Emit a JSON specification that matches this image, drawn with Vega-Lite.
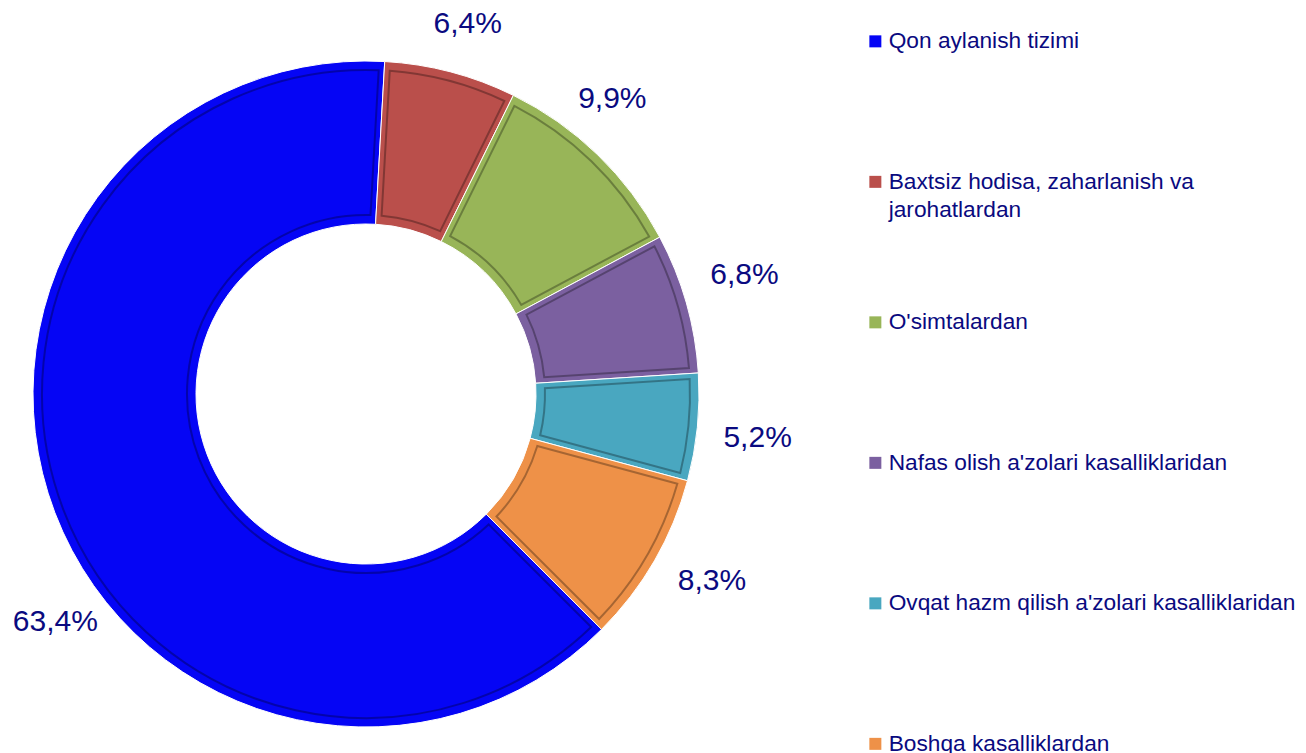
{
  "$schema": "https://vega.github.io/schema/vega-lite/v6.json",
  "autosize": "none",
  "width": 732,
  "height": 718,
  "padding": {"left": 0, "top": 35, "right": 574, "bottom": 0},
  "background": "white",
  "config": {"view": {"stroke": null}, "style": {"guide-label": {"dy": -11, "lineHeight": 28}}},
  "data": {
    "values": [
      {"cause": "Qon aylanish tizimi", "value": 63.4, "rank": 1},
      {"cause": "Baxtsiz hodisa, zaharlanish va jarohatlardan", "value": 6.4, "rank": 2},
      {"cause": "O'simtalardan", "value": 9.9, "rank": 3},
      {"cause": "Nafas olish a'zolari kasalliklaridan", "value": 6.8, "rank": 4},
      {"cause": "Ovqat hazm qilish a'zolari kasalliklaridan", "value": 5.2, "rank": 5},
      {"cause": "Boshqa kasalliklardan", "value": 8.3, "rank": 6}
    ]
  },
  "transform": [
    {"calculate": "replace(format(datum.value, '.1f'), '.', ',') + '%'", "as": "label"}
  ],
  "layer": [
    {
      "mark": {"type": "arc", "radius": 333, "radius2": 170, "stroke": "white", "strokeWidth": 1},
      "encoding": {
        "theta": {"field": "value", "type": "quantitative", "stack": true, "scale": {"range": [2.356, 8.639]}},
        "order": {"field": "rank", "type": "quantitative"},
        "color": {
          "field": "cause",
          "type": "nominal",
          "sort": null,
          "scale": {
            "domain": ["Qon aylanish tizimi", "Baxtsiz hodisa, zaharlanish va jarohatlardan", "O'simtalardan", "Nafas olish a'zolari kasalliklaridan", "Ovqat hazm qilish a'zolari kasalliklaridan", "Boshqa kasalliklardan"],
            "range": ["#0505F5", "#BA4F4B", "#98B558", "#7B60A0", "#49A7C0", "#EE9148"]
          },
          "legend": {
            "title": null,
            "orient": "none",
            "legendX": 864,
            "legendY": -5,
            "padding": 0,
            "symbolType": "square",
            "symbolSize": 144,
            "symbolStrokeWidth": 0,
            "labelFont": "Liberation Sans",
            "labelFontSize": 22.7,
            "labelColor": "#0A0A80",
            "labelOffset": 2,
            "labelLimit": 600,
            "labelBaseline": "top",
            "rowPadding": 88.5,
            "labelExpr": "datum.label == 'Baxtsiz hodisa, zaharlanish va jarohatlardan' ? ['Baxtsiz hodisa, zaharlanish va', 'jarohatlardan'] : [datum.label, '']"
          }
        }
      }
    },
    {
      "mark": {"type": "arc", "radius": 324, "radius2": 179, "padAngle": 0.03, "fillOpacity": 0, "stroke": "black", "strokeOpacity": 0.3, "strokeWidth": 2},
      "encoding": {
        "theta": {"field": "value", "type": "quantitative", "stack": true},
        "order": {"field": "rank", "type": "quantitative"}
      }
    },
    {
      "mark": {
        "type": "text",
        "radius": 385,
        "thetaOffset": {"expr": "datum.rank == 1 ? -0.267 : datum.rank == 3 ? -0.075 : datum.rank == 4 ? -0.03 : datum.rank == 6 ? -0.03 : 0.01"},
        "radiusOffset": {"expr": "datum.rank == 4 ? 12 : datum.rank == 5 ? 9 : datum.rank == 6 ? 8 : 0"},
        "dy": 1,
        "font": "Liberation Sans", "fontSize": 30, "color": "#0A0A80", "align": "center", "baseline": "middle"
      },
      "encoding": {
        "theta": {"field": "value", "type": "quantitative", "stack": true},
        "order": {"field": "rank", "type": "quantitative"},
        "text": {"field": "label"}
      }
    }
  ]
}
